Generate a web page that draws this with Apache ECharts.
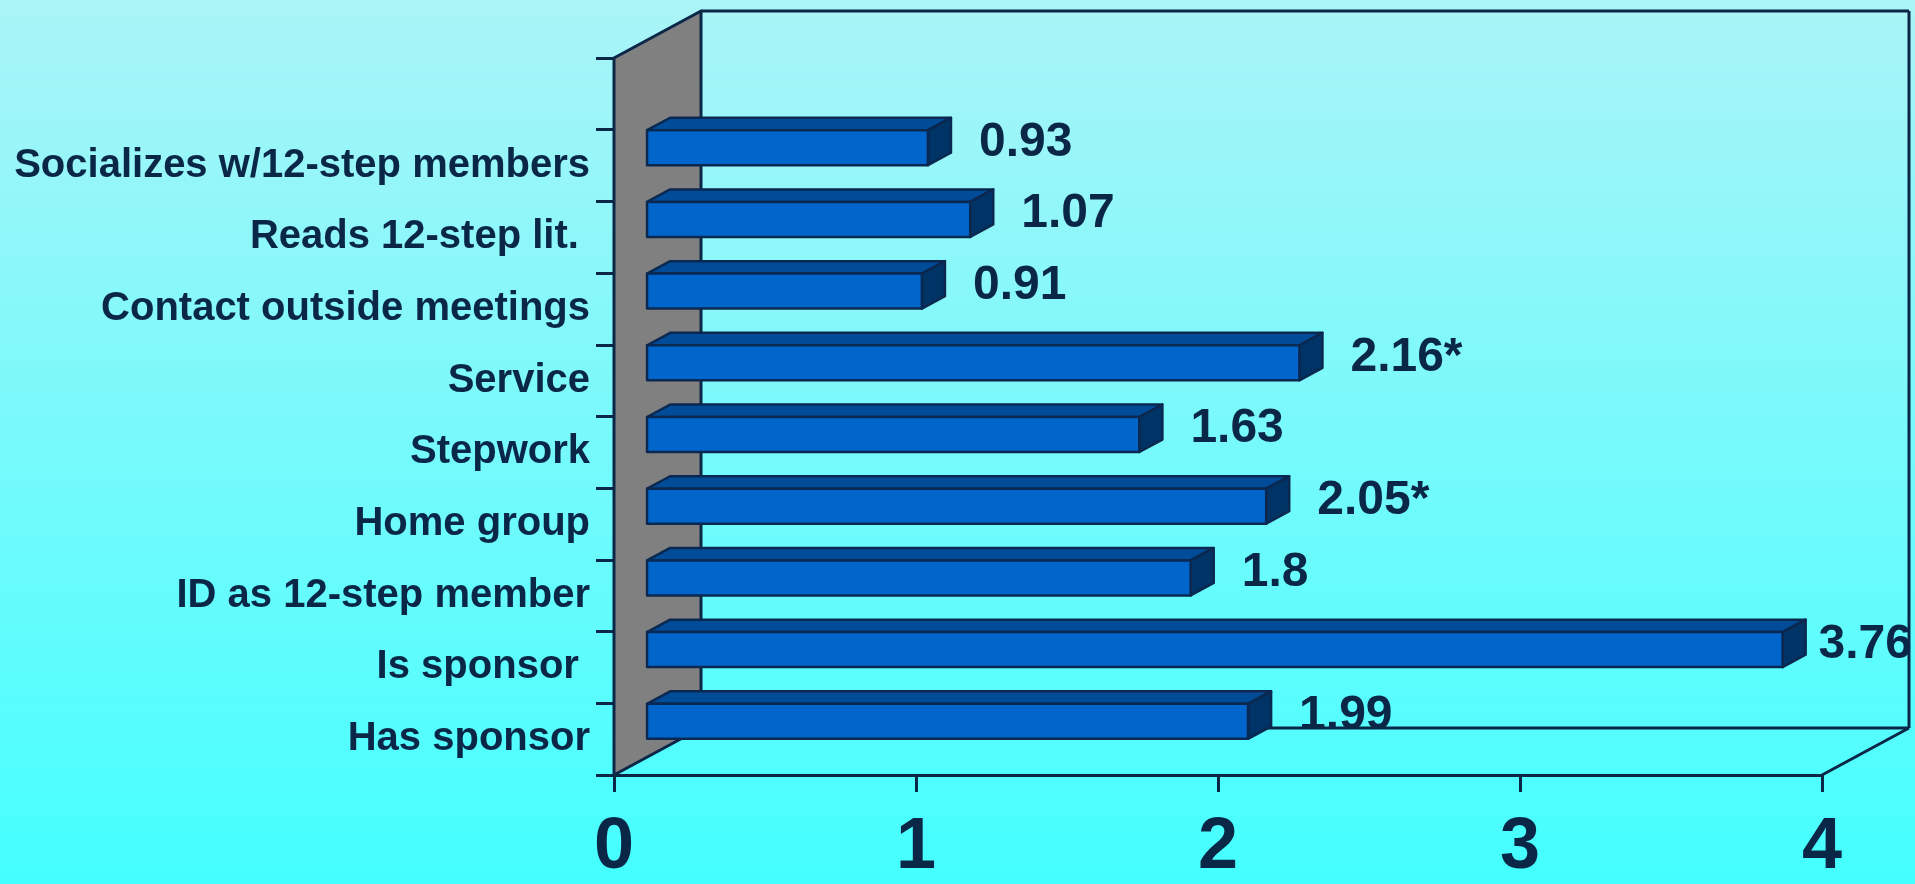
<!DOCTYPE html>
<html>
<head>
<meta charset="utf-8">
<script src="https://cdn.jsdelivr.net/npm/echarts@6/dist/echarts.min.js"></script>
<style>
  html, body { margin: 0; padding: 0; width: 100%; height: 100%; overflow: hidden; }
  #chart { width: 1915px; height: 884px; }
</style>
</head>
<body>
<div id="chart"></div>
<script>
// chart data, top to bottom
const categories = [
  'Socializes w/12-step members',
  'Reads 12-step lit. ',
  'Contact outside meetings',
  'Service',
  'Stepwork',
  'Home group',
  'ID as 12-step member',
  'Is sponsor ',
  'Has sponsor'
];
const values = [0.93, 1.07, 0.91, 2.16, 1.63, 2.05, 1.8, 3.76, 1.99];
const valueLabels = ['0.93', '1.07', '0.91', '2.16*', '1.63', '2.05*', '1.8', '3.76', '1.99'];
const xTicks = [0, 1, 2, 3, 4];

const navy = '#0b2748';
const font = "'Liberation Sans', Arial, sans-serif";
const labelFont = 'bold 48px ' + font;

// 3d depth of the plot box
const WALL_DX = 87, WALL_DY = -47;
const BAR_FRONT = 0.38, BAR_BACK = 0.645;
const BAR_H = 35;

// an empty slot sits above the first bar
const axisCats = [''].concat(categories);

const measureCtx = document.createElement('canvas').getContext('2d');
function textWidth(s) {
  measureCtx.font = labelFont;
  return measureCtx.measureText(s).width;
}

function renderWalls(params, api) {
  const cs = params.coordSys;
  const x0 = cs.x, y0 = cs.y, x1 = cs.x + cs.width, y1 = cs.y + cs.height;
  const bx0 = x0 + WALL_DX, by0 = y0 + WALL_DY, bx1 = x1 + WALL_DX, by1 = y1 + WALL_DY;
  const ln = { stroke: navy, lineWidth: 3 };
  return {
    type: 'group',
    children: [
      { type: 'polygon', shape: { points: [[x0, y0], [bx0, by0], [bx0, by1], [x0, y1]] },
        style: { fill: '#808080', stroke: navy, lineWidth: 3, lineJoin: 'round' } },
      { type: 'line', shape: { x1: bx0, y1: by0, x2: bx1, y2: by0 }, style: ln },
      { type: 'line', shape: { x1: bx1, y1: by0, x2: bx1, y2: by1 }, style: ln },
      { type: 'line', shape: { x1: bx0, y1: by1, x2: bx1, y2: by1 }, style: ln },
      { type: 'line', shape: { x1: x1, y1: y1, x2: bx1, y2: by1 }, style: ln }
    ]
  };
}

function renderBar(params, api) {
  const cat = api.value(1);
  const p0 = api.coord([0, cat]);
  const p1 = api.coord([api.value(0), cat]);
  const fx = WALL_DX * BAR_FRONT, fy = WALL_DY * BAR_FRONT;
  const ddx = WALL_DX * (BAR_BACK - BAR_FRONT), ddy = WALL_DY * (BAR_BACK - BAR_FRONT);
  const xl = p0[0] + fx, xr = p1[0] + fx;
  const cy = p0[1] + fy;
  const top = cy - BAR_H / 2, bot = cy + BAR_H / 2;
  const txt = valueLabels[params.dataIndex];
  let lx = xr + ddx + 28;
  const maxX = api.getWidth() - 3 - textWidth(txt);
  if (lx > maxX) lx = maxX;
  const edge = { stroke: '#0a2850', lineWidth: 2.5, lineJoin: 'round' };
  return {
    type: 'group',
    children: [
      { type: 'polygon', shape: { points: [[xl, top], [xr, top], [xr + ddx, top + ddy], [xl + ddx, top + ddy]] },
        style: Object.assign({ fill: '#004c99' }, edge) },
      { type: 'polygon', shape: { points: [[xr, top], [xr + ddx, top + ddy], [xr + ddx, bot + ddy], [xr, bot]] },
        style: Object.assign({ fill: '#003366' }, edge) },
      { type: 'rect', shape: { x: xl, y: top, width: xr - xl, height: BAR_H },
        style: Object.assign({ fill: '#0066cc' }, edge) },
      { type: 'text', x: lx, y: cy + ddy / 2 + 1,
        style: { text: txt, fill: navy, font: labelFont, verticalAlign: 'middle', align: 'left' } }
    ]
  };
}

const chart = echarts.init(document.getElementById('chart'));
chart.setOption({
  animation: false,
  backgroundColor: {
    type: 'linear', x: 0, y: 0, x2: 0, y2: 1,
    colorStops: [{ offset: 0, color: '#aaf4f7' }, { offset: 1, color: '#44ffff' }]
  },
  grid: { left: 614, right: 93, top: 58, bottom: 109, containLabel: false },
  xAxis: {
    type: 'value', min: xTicks[0], max: xTicks[xTicks.length - 1], interval: 1,
    splitLine: { show: false },
    axisLine: { show: true, lineStyle: { color: navy, width: 3 } },
    axisTick: { show: true, length: 17, lineStyle: { color: navy, width: 3 } },
    axisLabel: { color: navy, fontFamily: font, fontWeight: 'bold', fontSize: 72, margin: 37 }
  },
  yAxis: {
    type: 'category', inverse: true, data: axisCats,
    axisLine: { show: true, lineStyle: { color: navy, width: 3 } },
    axisTick: { show: true, length: 18, lineStyle: { color: navy, width: 3 } },
    axisLabel: { color: navy, fontFamily: font, fontWeight: 'bold', fontSize: 40, margin: 24 }
  },
  series: [
    {
      type: 'custom', z: 1, renderItem: renderWalls, silent: true,
      data: [[0, '']]
    },
    {
      type: 'custom', z: 2, renderItem: renderBar,
      encode: { x: 0, y: 1 },
      data: values.map((v, i) => [v, categories[i]])
    }
  ]
});
</script>
</body>
</html>
